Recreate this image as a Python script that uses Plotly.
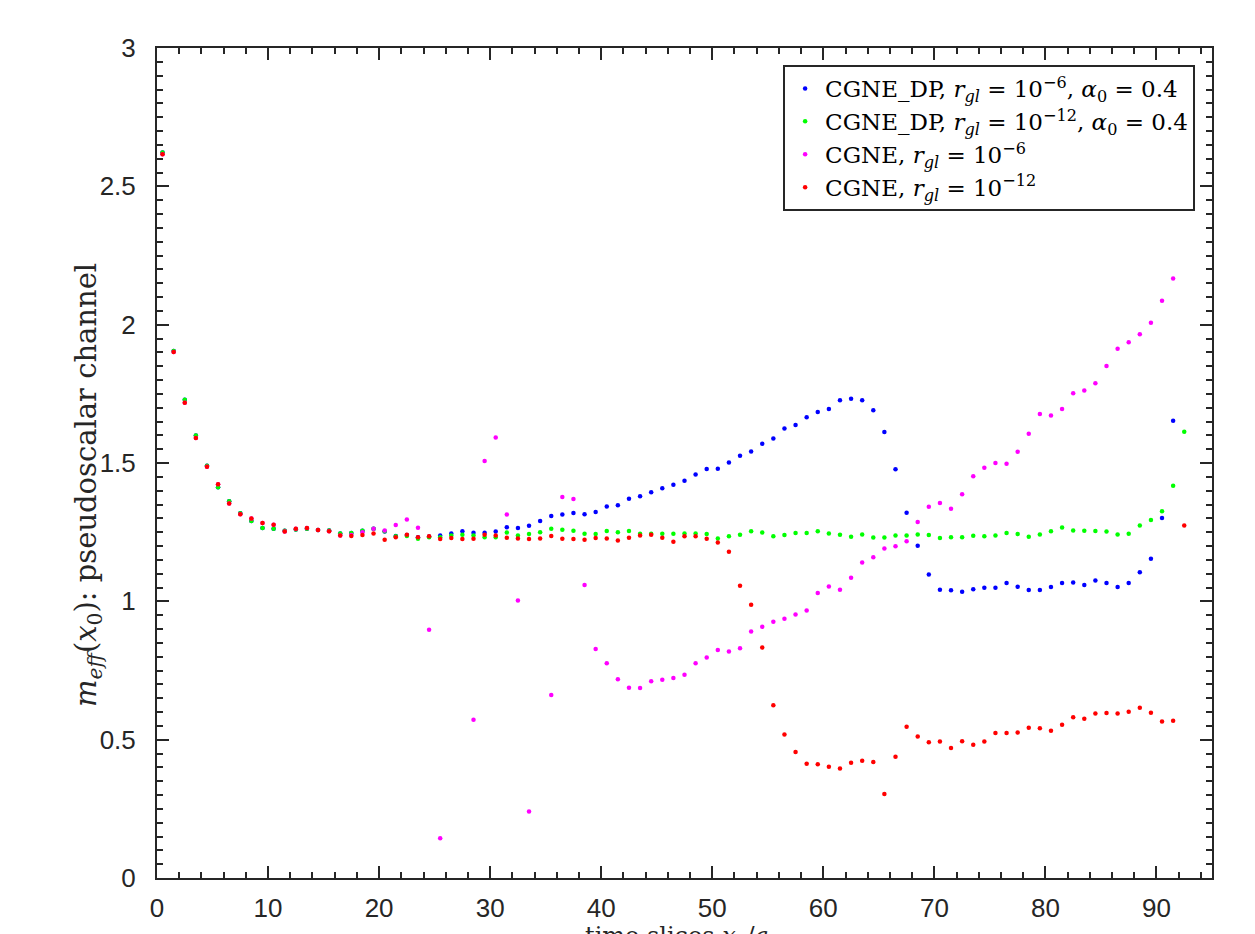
import plotly.graph_objects as go

# time slice positions (index k -> x = k + 0.5)
k_index = list(range(93))
x_vals = [k + 0.5 for k in k_index]

# CGNE_DP, r_gl = 1e-12 (green)
green_vals = [2.622, 1.905, 1.729, 1.599, 1.490, 1.412, 1.362, 1.318, 1.290, 1.265,
              1.262, 1.255, 1.260, 1.262, 1.258, 1.256, 1.245, 1.247, 1.255, 1.262,
              1.253, 1.235, 1.236, 1.226, 1.232, 1.232, 1.238, 1.241, 1.238, 1.232,
              1.232, 1.249, 1.238, 1.243, 1.250, 1.262, 1.259, 1.255, 1.244, 1.243,
              1.254, 1.250, 1.254, 1.244, 1.244, 1.244, 1.244, 1.245, 1.245, 1.243,
              1.227, 1.235, 1.241, 1.253, 1.249, 1.235, 1.240, 1.247, 1.247, 1.253,
              1.245, 1.241, 1.233, 1.242, 1.231, 1.231, 1.238, 1.238, 1.242, 1.240,
              1.229, 1.232, 1.232, 1.237, 1.235, 1.238, 1.247, 1.243, 1.233, 1.242,
              1.253, 1.267, 1.256, 1.255, 1.254, 1.252, 1.242, 1.244, 1.274, 1.294,
              1.326, 1.418, 1.613]

# CGNE_DP, r_gl = 1e-6 (blue)
blue_vals = [2.622, 1.905, 1.729, 1.599, 1.490, 1.412, 1.362, 1.318, 1.290, 1.265,
             1.262, 1.255, 1.260, 1.262, 1.258, 1.256, 1.245, 1.247, 1.255, 1.262,
             1.252, 1.236, 1.240, 1.232, 1.234, 1.238, 1.245, 1.253, 1.248, 1.248,
             1.252, 1.268, 1.265, 1.273, 1.290, 1.308, 1.314, 1.319, 1.315, 1.323,
             1.343, 1.347, 1.371, 1.380, 1.394, 1.409, 1.421, 1.436, 1.458, 1.478,
             1.479, 1.502, 1.526, 1.542, 1.570, 1.589, 1.625, 1.637, 1.665, 1.684,
             1.695, 1.727, 1.732, 1.727, 1.691, 1.612, 1.477, 1.320, 1.201, 1.097,
             1.042, 1.040, 1.035, 1.044, 1.049, 1.049, 1.066, 1.053, 1.041, 1.041,
             1.052, 1.066, 1.068, 1.059, 1.075, 1.066, 1.052, 1.066, 1.105, 1.154,
             1.301, 1.653, None]

# CGNE, r_gl = 1e-6 (magenta)
magenta_vals = [2.616, 1.901, 1.718, 1.590, 1.486, 1.423, 1.354, 1.315, 1.299, 1.283,
                1.277, 1.252, 1.262, 1.265, 1.258, 1.253, 1.238, 1.240, 1.250, 1.262,
                1.256, 1.276, 1.296, 1.266, 0.897, 0.144, None, None, 0.572, 1.507,
                1.592, 1.314, 1.003, 0.240, None, 0.661, 1.377, 1.370, 1.059, 0.828,
                0.776, 0.718, 0.688, 0.687, 0.711, 0.717, 0.723, 0.735, 0.776, 0.797,
                0.824, 0.819, 0.830, 0.891, 0.908, 0.926, 0.937, 0.952, 0.967, 1.030,
                1.054, 1.042, 1.085, 1.140, 1.159, 1.191, 1.199, 1.217, 1.287, 1.342,
                1.355, 1.335, 1.387, 1.452, 1.483, 1.500, 1.497, 1.541, 1.606, 1.677,
                1.672, 1.695, 1.752, 1.762, 1.788, 1.851, 1.913, 1.936, 1.965, 2.007,
                2.086, 2.167, None]

# CGNE, r_gl = 1e-12 (red)
red_vals = [2.616, 1.901, 1.718, 1.590, 1.486, 1.423, 1.354, 1.315, 1.299, 1.283,
            1.277, 1.252, 1.262, 1.265, 1.258, 1.253, 1.238, 1.236, 1.240, 1.245,
            1.223, 1.232, 1.241, 1.232, 1.235, 1.225, 1.229, 1.225, 1.226, 1.241,
            1.238, 1.230, 1.227, 1.225, 1.227, 1.236, 1.226, 1.225, 1.223, 1.229,
            1.227, 1.220, 1.230, 1.238, 1.241, 1.230, 1.215, 1.235, 1.235, 1.226,
            1.213, 1.179, 1.056, 0.988, 0.833, 0.624, 0.519, 0.455, 0.413, 0.411,
            0.402, 0.396, 0.417, 0.424, 0.419, 0.304, 0.438, 0.547, 0.511, 0.491,
            0.493, 0.470, 0.494, 0.482, 0.493, 0.524, 0.524, 0.526, 0.543, 0.541,
            0.532, 0.554, 0.581, 0.576, 0.595, 0.596, 0.595, 0.601, 0.615, 0.597,
            0.566, 0.568, 1.274]

series_names = [
    "CGNE_DP, <i>r</i><sub><i>gl</i></sub> = 10<sup>−6</sup>, <i>α</i><sub>0</sub> = 0.4",
    "CGNE_DP, <i>r</i><sub><i>gl</i></sub> = 10<sup>−12</sup>, <i>α</i><sub>0</sub> = 0.4",
    "CGNE, <i>r</i><sub><i>gl</i></sub> = 10<sup>−6</sup>",
    "CGNE, <i>r</i><sub><i>gl</i></sub> = 10<sup>−12</sup>",
]
series_colors = ["#0000ff", "#00ff00", "#ff00ff", "#ff0000"]
series_data = [blue_vals, green_vals, magenta_vals, red_vals]

fig = go.Figure()
for name, col, vals in zip(series_names, series_colors, series_data):
    fig.add_trace(go.Scatter(x=x_vals, y=vals, mode="markers", name=name,
                             marker=dict(color=col, size=4.5, line=dict(width=0))))

axis_col = "#262626"
tick_font = dict(family="Liberation Sans, Arial, sans-serif", size=26, color=axis_col)

fig.update_xaxes(range=[0, 95], tickmode="array", tickvals=list(range(0, 100, 10)),
                 ticks="inside", ticklen=12, tickwidth=2, tickcolor=axis_col,
                 showline=True, linewidth=2, linecolor=axis_col, mirror="allticks",
                 showgrid=False, zeroline=False, tickfont=tick_font,
                 ticklabelstandoff=6, automargin=False,
                 minor=dict(ticks="inside", ticklen=6, tickwidth=2, tickcolor=axis_col,
                            dtick=2, tick0=0, showgrid=False))
fig.update_yaxes(range=[0, 3], tickmode="array", tickvals=[0, 0.5, 1, 1.5, 2, 2.5, 3],
                 ticktext=["0", "0.5", "1", "1.5", "2", "2.5", "3"],
                 ticks="inside", ticklen=12, tickwidth=2, tickcolor=axis_col,
                 showline=True, linewidth=2, linecolor=axis_col, mirror="allticks",
                 showgrid=False, zeroline=False, tickfont=tick_font,
                 ticklabelstandoff=14, automargin=False,
                 minor=dict(ticks="inside", ticklen=6, tickwidth=2, tickcolor=axis_col,
                            dtick=0.05, tick0=0, showgrid=False))

serif = "DejaVu Serif, Liberation Serif, serif"
fig.add_annotation(xref="paper", yref="paper", x=-0.0654, y=0.4735, textangle=-90,
                   text="<i>m</i><sub><i>eff</i></sub>(<i>x</i><sub>0</sub>): pseudoscalar channel",
                   showarrow=False, font=dict(family=serif, size=29, color=axis_col),
                   xanchor="center", yanchor="middle")
fig.add_annotation(xref="paper", yref="paper", x=0.493, y=-0.051,
                   text="time slices <i>x</i><sub>0</sub>/<i>a</i>",
                   showarrow=False, font=dict(family=serif, size=24, color=axis_col),
                   xanchor="center", yanchor="top")

# the page body adds an 8px offset, so the figure is 8px smaller than the window
fig.update_layout(
    width=1247, height=926,
    margin=dict(l=149, r=43, t=40, b=56, autoexpand=False),
    paper_bgcolor="white", plot_bgcolor="white",
    showlegend=True,
    legend=dict(x=0.984, y=0.9795, xanchor="right", yanchor="top",
                bgcolor="white", bordercolor=axis_col, borderwidth=2,
                font=dict(family=serif, size=23, color="black"),
                tracegroupgap=0, itemsizing="trace"),
)

fig.write_html("out.html")
